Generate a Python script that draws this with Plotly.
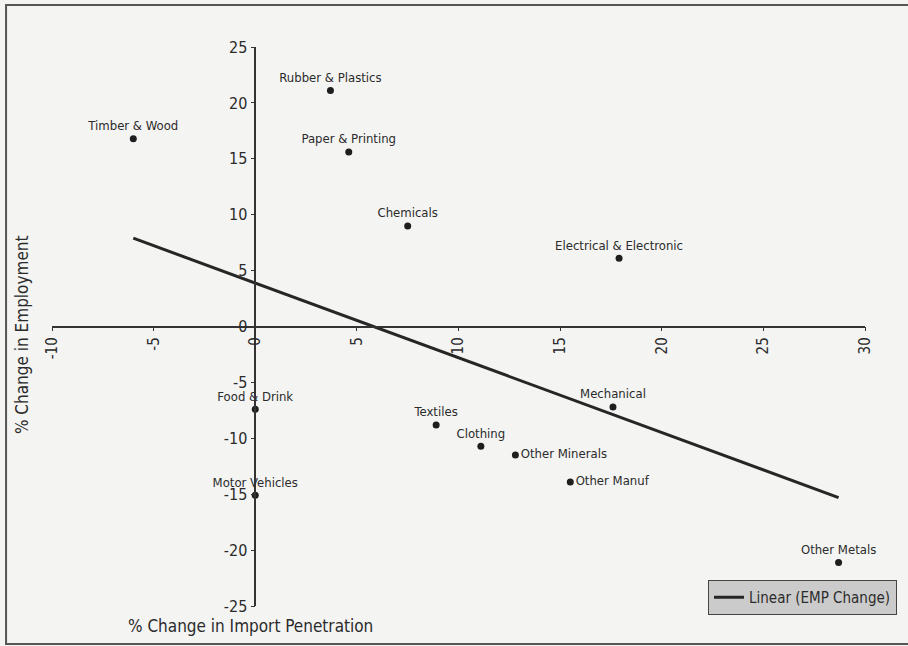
import plotly.graph_objects as go

# ---- data ----
sectors = ["Timber & Wood", "Rubber & Plastics", "Paper & Printing", "Chemicals",
           "Electrical & Electronic", "Food & Drink", "Motor Vehicles", "Textiles",
           "Mechanical", "Clothing", "Other Minerals", "Other Manuf", "Other Metals"]
import_change = [-6.0, 3.7, 4.6, 7.5, 17.9, 0.0, 0.0, 8.9, 17.6, 11.1, 12.8, 15.5, 28.7]
emp_change = [16.8, 21.1, 15.6, 9.0, 6.1, -7.4, -15.1, -8.8, -7.2, -10.7, -11.5, -13.9, -21.1]
label_pos = ["top center", "top center", "top center", "top center", "top center",
             "top center", "top center", "top center", "top center", "top center",
             "middle right", "middle right", "top center"]

trend_x = [-6.0, 28.7]
trend_y = [7.9, -15.3]

x_ticks = [-10, -5, 0, 5, 10, 15, 20, 25, 30]
y_ticks = [-25, -20, -15, -10, -5, 0, 5, 10, 15, 20, 25]

FONT = "DejaVu Sans Condensed, DejaVu Sans, sans-serif"
INK = "#2b2b2b"
BG = "#f4f4f3"

fig = go.Figure()

fig.add_trace(go.Scatter(
    x=trend_x, y=trend_y, mode="lines",
    line=dict(color="#262626", width=3),
    name="Linear (EMP Change)", showlegend=True,
))

fig.add_trace(go.Scatter(
    x=import_change, y=emp_change, mode="markers+text",
    text=sectors, textposition=label_pos,
    textfont=dict(family=FONT, size=13, color=INK),
    marker=dict(color="#1e1e1e", size=7),
    showlegend=False, cliponaxis=False,
))

L, R, T, B = 52, 42, 47, 40
W, H = 908, 646
pw, ph = W - L - R, H - T - B

def px_x(p):
    return (p - L) / pw

def px_y(p):
    return (H - B - p) / ph

fig.update_layout(
    width=W, height=H,
    margin=dict(l=L, r=R, t=T, b=B),
    paper_bgcolor=BG, plot_bgcolor=BG,
    font=dict(family=FONT, color=INK),
    xaxis=dict(
        range=[-10, 30], tickvals=x_ticks, ticktext=[str(v) for v in x_ticks],
        tickangle=-90, anchor="free", position=0.5,
        showline=True, linecolor="#333", linewidth=1.5,
        ticks="outside", ticklen=4, tickcolor="#333",
        showgrid=False, zeroline=False,
        tickfont=dict(family=FONT, size=15, color=INK),
    ),
    yaxis=dict(
        range=[-25, 25], tickvals=y_ticks, ticktext=[str(v) for v in y_ticks],
        anchor="free", position=0.25,
        showline=True, linecolor="#333", linewidth=1.5,
        ticks="outside", ticklen=4, tickcolor="#333",
        showgrid=False, zeroline=False,
        tickfont=dict(family=FONT, size=16, color=INK),
    ),
    legend=dict(
        x=px_x(897), xanchor="right", y=px_y(615), yanchor="bottom",
        bgcolor="#cbcbcb", bordercolor="#444", borderwidth=1,
        font=dict(family=FONT, size=15, color=INK),
        itemwidth=30, tracegroupgap=0,
    ),
    showlegend=True,
)

fig.add_annotation(
    text="% Change in Import Penetration", xref="paper", yref="paper",
    x=px_x(251), y=px_y(626), xanchor="center", yanchor="middle", showarrow=False,
    font=dict(family=FONT, size=17, color=INK),
)
fig.add_annotation(
    text="% Change in Employment", xref="paper", yref="paper",
    x=px_x(22), y=px_y(335), xanchor="center", yanchor="middle", showarrow=False,
    textangle=-90,
    font=dict(family=FONT, size=17, color=INK),
)

fig.add_shape(
    type="rect", xref="paper", yref="paper",
    x0=px_x(6), x1=px_x(915), y0=px_y(644), y1=px_y(5),
    line=dict(color="#555", width=2), fillcolor="rgba(0,0,0,0)", layer="below",
)

fig.write_html("out.html", config={"displayModeBar": False},
               post_script="document.body.style.margin='0';")
